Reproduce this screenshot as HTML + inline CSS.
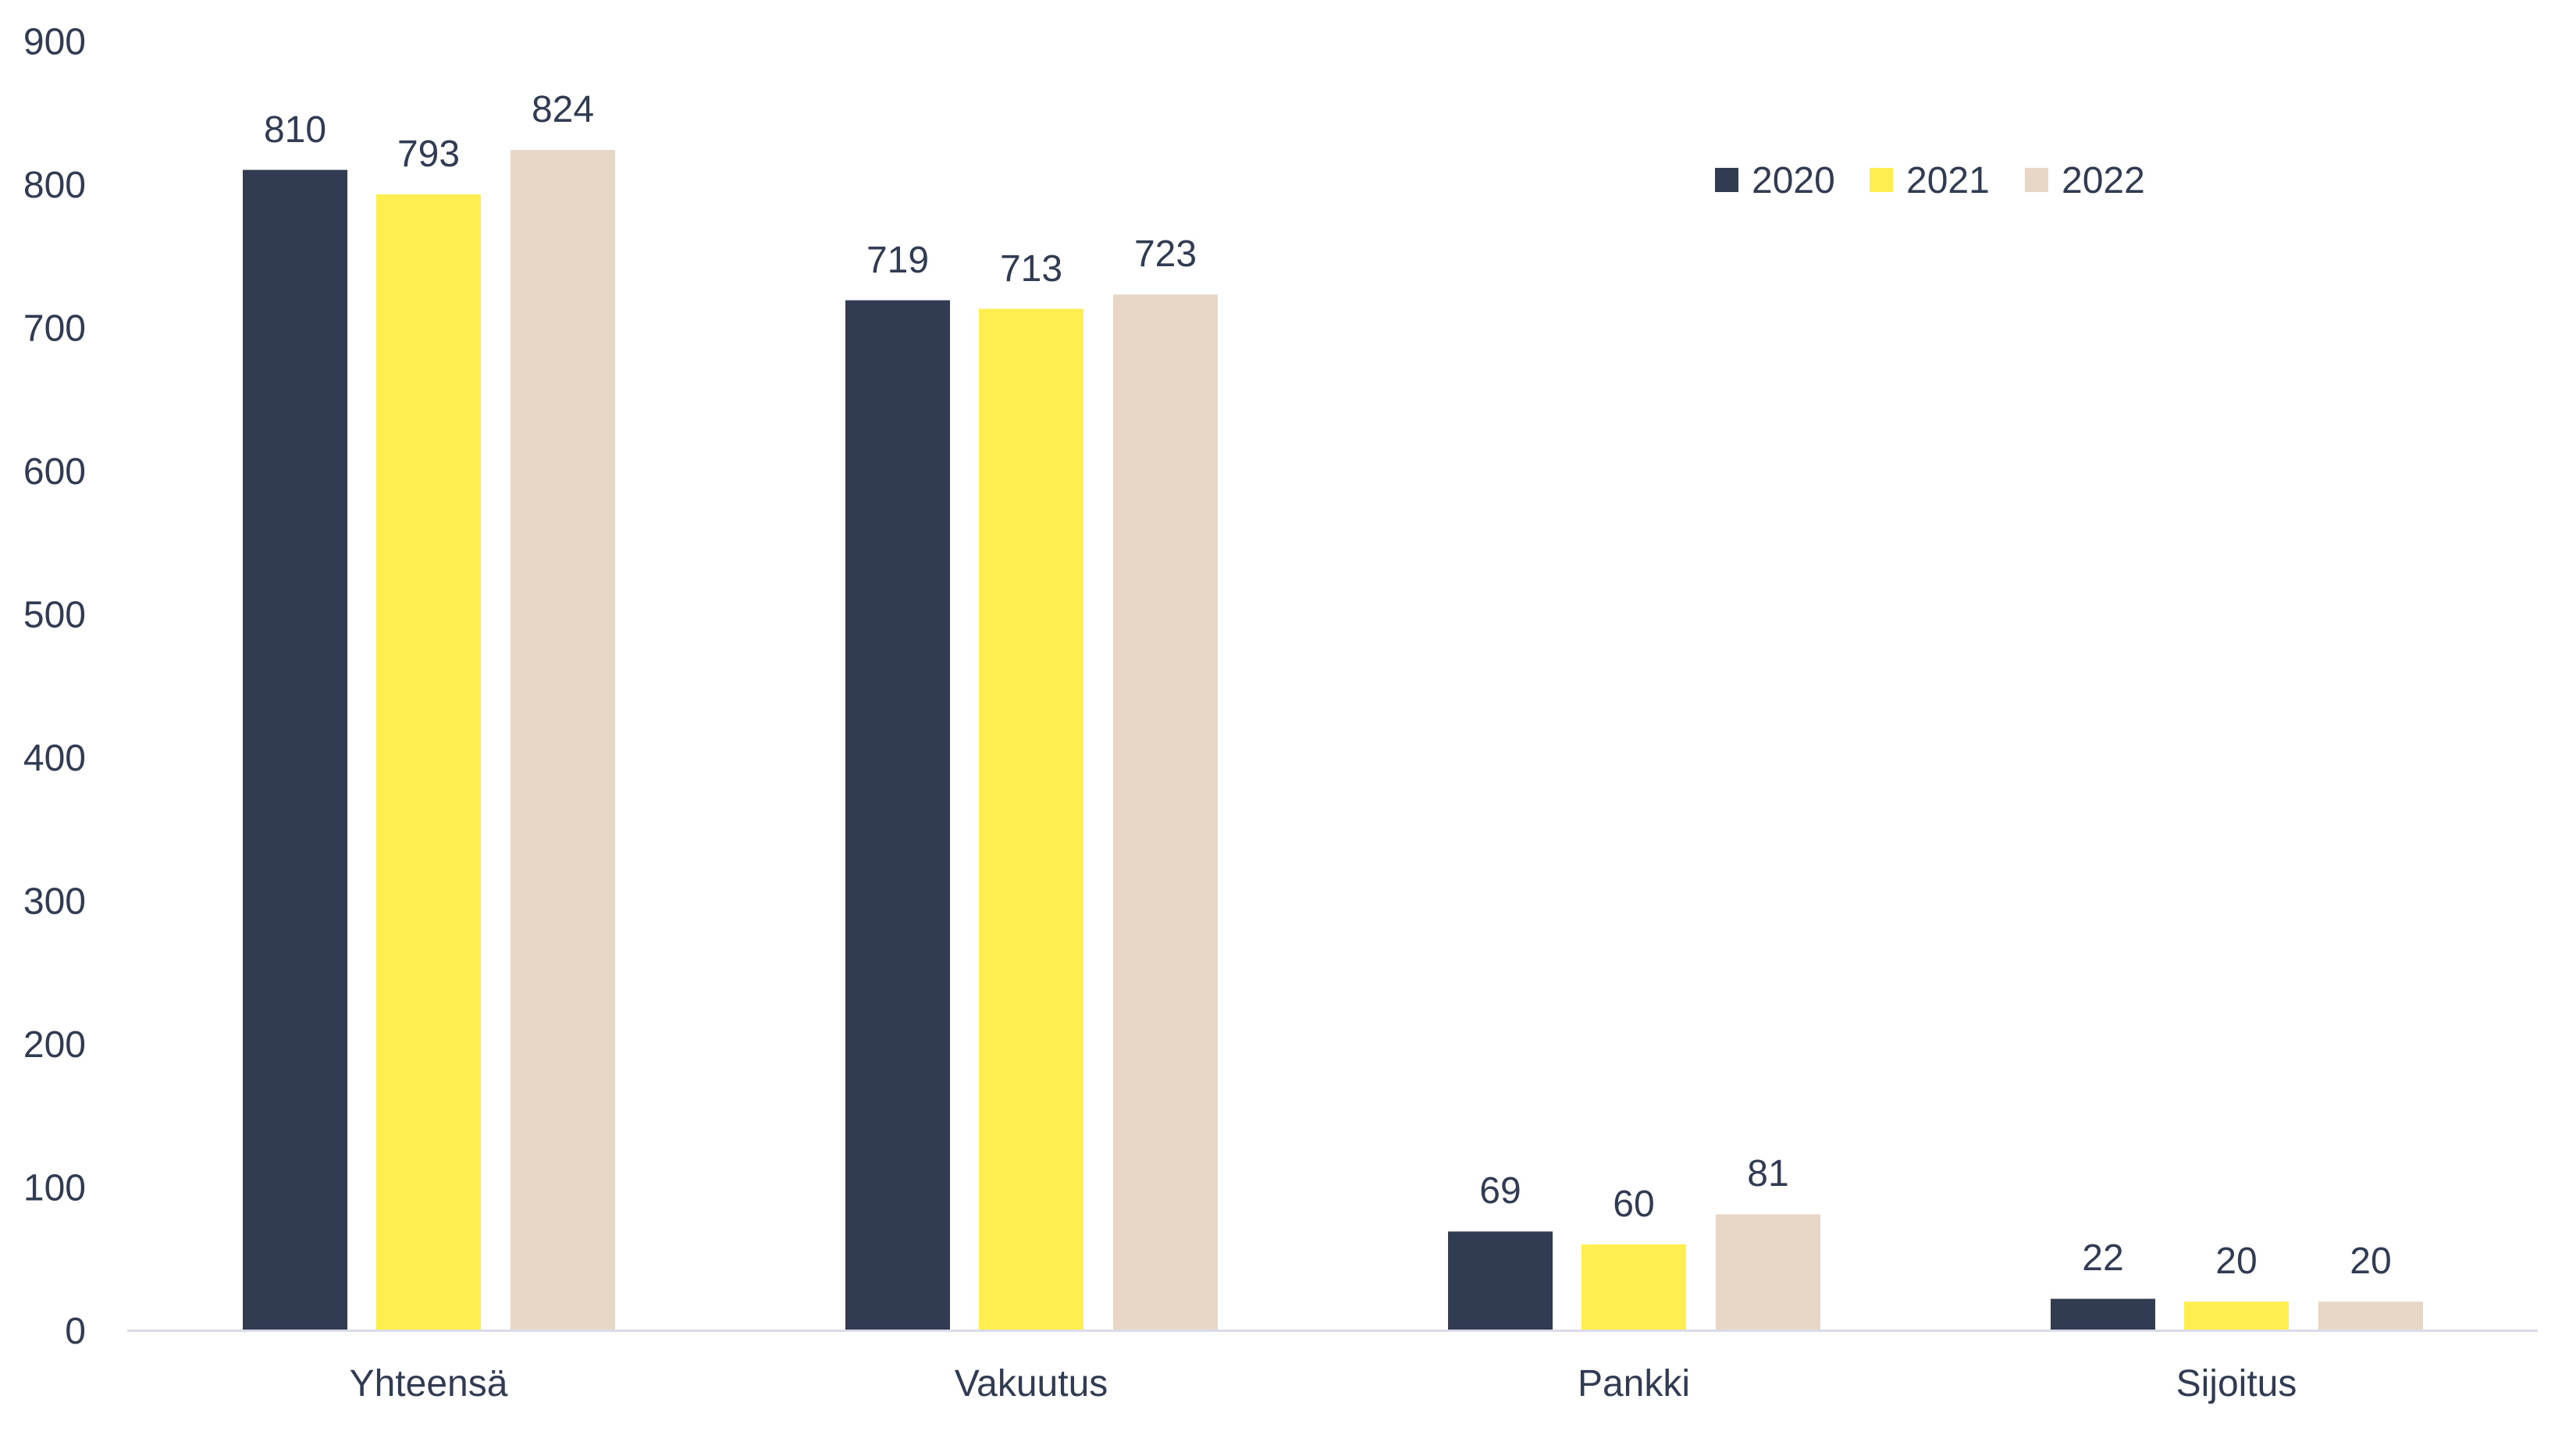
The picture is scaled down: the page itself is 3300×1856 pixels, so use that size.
<!DOCTYPE html>
<html><head><meta charset="utf-8"><style>
html,body{margin:0;padding:0;background:#fff;}
svg{display:block;}
text{font-family:"Liberation Sans",sans-serif;fill:#313c53;font-size:48px;}
</style></head><body>
<svg width="3300" height="1856" viewBox="0 0 3300 1856" xmlns="http://www.w3.org/2000/svg">
<rect width="3300" height="1856" fill="#fff"/>
<g transform="translate(-3,-2)">
<g text-anchor="end">
<text x="113" y="1723">0</text>
<text x="113" y="1539.5">100</text>
<text x="113" y="1356">200</text>
<text x="113" y="1172.5">300</text>
<text x="113" y="989">400</text>
<text x="113" y="805.5">500</text>
<text x="113" y="622">600</text>
<text x="113" y="438.5">700</text>
<text x="113" y="255">800</text>
<text x="113" y="71.5">900</text>
</g>
<g>
<rect x="314" y="219.6" width="134" height="1486.4" fill="#313c53"/>
<rect x="485" y="250.8" width="134" height="1455.2" fill="#ffee50"/>
<rect x="657" y="194" width="134" height="1512" fill="#e8d6c6"/>
<rect x="1086" y="386.6" width="134" height="1319.4" fill="#313c53"/>
<rect x="1257" y="397.6" width="134" height="1308.4" fill="#ffee50"/>
<rect x="1429" y="379.3" width="134" height="1326.7" fill="#e8d6c6"/>
<rect x="1858" y="1579.4" width="134" height="126.6" fill="#313c53"/>
<rect x="2029" y="1595.9" width="134" height="110.1" fill="#ffee50"/>
<rect x="2201" y="1557.4" width="134" height="148.6" fill="#e8d6c6"/>
<rect x="2630" y="1665.6" width="134" height="40.4" fill="#313c53"/>
<rect x="2801" y="1669.3" width="134" height="36.7" fill="#ffee50"/>
<rect x="2973" y="1669.3" width="134" height="36.7" fill="#e8d6c6"/>
</g>
<rect x="166" y="1705" width="3088" height="3" fill="#d9dce6"/>
<g text-anchor="middle">
<text x="381" y="184">810</text>
<text x="552" y="215">793</text>
<text x="724" y="158">824</text>
<text x="1153" y="351">719</text>
<text x="1324" y="362">713</text>
<text x="1496" y="343">723</text>
<text x="1925" y="1543">69</text>
<text x="2096" y="1560">60</text>
<text x="2268" y="1521">81</text>
<text x="2697" y="1629">22</text>
<text x="2868" y="1633">20</text>
<text x="3040" y="1633">20</text>
<text x="552" y="1790">Yhteensä</text>
<text x="1324" y="1790">Vakuutus</text>
<text x="2096" y="1790">Pankki</text>
<text x="2868" y="1790">Sijoitus</text>
</g>
<rect x="2200" y="217" width="30" height="31" fill="#313c53"/>
<text x="2247" y="249">2020</text>
<rect x="2398" y="217" width="30" height="31" fill="#ffee50"/>
<text x="2445" y="249">2021</text>
<rect x="2597" y="217" width="30" height="31" fill="#e8d6c6"/>
<text x="2644" y="249">2022</text>
</g>
</svg>
</body></html>
